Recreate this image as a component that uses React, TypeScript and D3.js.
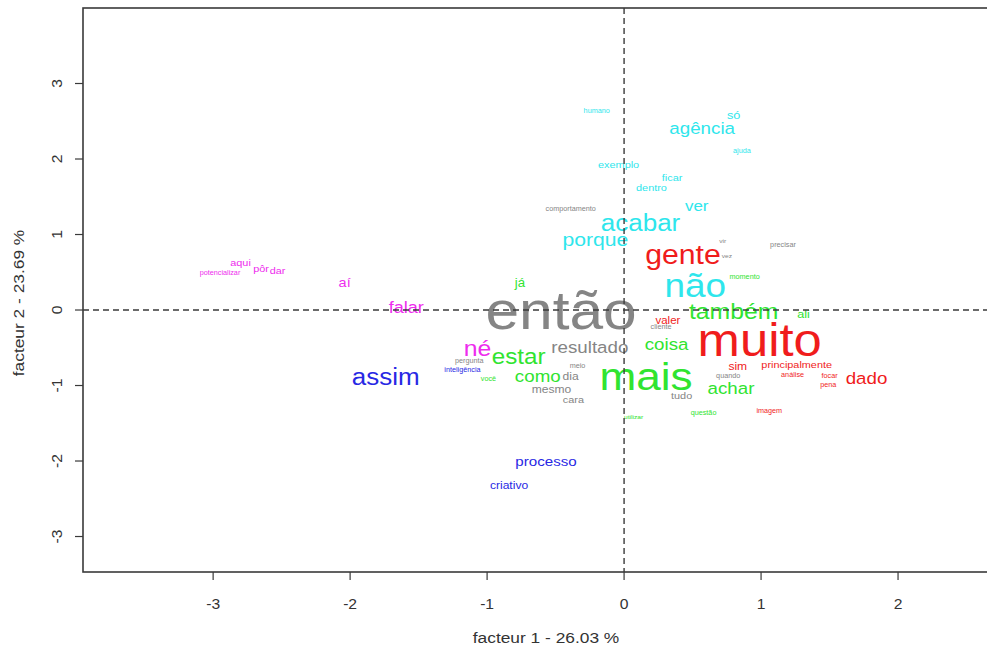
import React from "react";
import * as d3 from "d3";

// words of the correspondence analysis, one entry per word
const words = [
  "humano", "só", "agência", "ajuda", "exemplo", "ficar", "dentro", "ver", "acabar", "porque", "não",
  "gente", "muito", "valer", "sim", "principalmente", "análise", "focar", "pena", "dado", "imagem",
  "já", "também", "ali", "momento", "coisa", "mais", "achar", "estar", "como", "você", "utilizar", "questão",
  "comportamento", "vir", "vez", "precisar", "então", "cliente", "resultado", "pergunta", "meio", "dia", "mesmo", "cara", "tudo", "quando",
  "aqui", "potencializar", "pôr", "dar", "aí", "falar", "né",
  "assim", "inteligência", "processo", "criativo",
];

const factor1 = [
  -0.2, 0.8, 0.57, 0.86, -0.04, 0.35, 0.2, 0.53, 0.12, -0.21, 0.52,
  0.43, 0.99, 0.32, 0.83, 1.26, 1.23, 1.5, 1.49, 1.77, 1.06,
  -0.76, 0.8, 1.31, 0.88, 0.31, 0.16, 0.78, -0.77, -0.63, -0.99, 0.07, 0.58,
  -0.39, 0.72, 0.75, 1.16, -0.46, 0.27, -0.25, -1.13, -0.34, -0.39, -0.53, -0.37, 0.42, 0.76,
  -2.8, -2.95, -2.65, -2.53, -2.04, -1.59, -1.07,
  -1.74, -1.18, -0.57, -0.84,
];

const factor2 = [
  2.64, 2.58, 2.4, 2.11, 1.93, 1.75, 1.62, 1.38, 1.15, 0.93, 0.33,
  0.73, -0.4, -0.13, -0.74, -0.72, -0.85, -0.87, -0.99, -0.91, -1.33,
  0.35, -0.02, -0.05, 0.44, -0.46, -0.88, -1.04, -0.62, -0.88, -0.91, -1.41, -1.36,
  1.34, 0.92, 0.72, 0.87, 0.0, -0.22, -0.5, -0.67, -0.74, -0.88, -1.05, -1.19, -1.13, -0.87,
  0.62, 0.5, 0.55, 0.52, 0.36, 0.03, -0.51,
  -0.89, -0.79, -2.01, -2.32,
];

const freq = [
  12, 21, 31, 12, 18, 18, 18, 28, 43, 35, 61,
  50, 84, 19, 20, 18, 12, 12, 12, 31, 12,
  22, 41, 21, 12, 31, 73, 31, 40, 31, 12, 11, 12,
  12, 11, 11, 12, 100, 12, 31, 12, 12, 20, 20, 18, 18, 12,
  18, 12, 18, 18, 24, 30, 41,
  43, 12, 25, 20,
];

const cluster = [
  1, 1, 1, 1, 1, 1, 1, 1, 1, 1, 1,
  2, 2, 2, 2, 2, 2, 2, 2, 2, 2,
  3, 3, 3, 3, 3, 3, 3, 3, 3, 3, 3, 3,
  4, 4, 4, 4, 4, 4, 4, 4, 4, 4, 4, 4, 4, 4,
  5, 5, 5, 5, 5, 5, 5,
  6, 6, 6, 6,
];

const clusterColors = ["#2ee6ec", "#f01c1c", "#30e430", "#858585", "#ee2cee", "#2828e4"];

const xTicks = [-3, -2, -1, 0, 1, 2];
const yTicks = [-3, -2, -1, 0, 1, 2, 3];
const xTitle = "facteur  1  - 26.03 %";
const yTitle = "facteur  2  - 23.69 %";

const W = 987;
const H = 648;
const left = 83;
const top = 8;
const right = 1009; // the frame runs past the picture edge
const bottom = 572;
const font = "'Liberation Sans', Arial, sans-serif";
const stretch = 1.12;

const App = () => {
  const x = d3.scaleLinear().domain([-3.95, 2.81]).range([left, right]);
  const y = d3.scaleLinear().domain([-3.47, 4.0]).range([bottom, top]);
  const size = d3.scaleLinear().domain([0, 100]).range([0, 54]);
  const color = d3.scaleOrdinal<number, string>().domain([1, 2, 3, 4, 5, 6]).range(clusterColors);

  const labels = words.map((w, i) => ({ w, x: factor1[i], y: factor2[i], f: freq[i], c: cluster[i] }));
  const axisColor = "#3a3a3a";

  return (
    <div style={{ position: "absolute", left: 0, top: 0 }}>
      <svg width={W} height={H} style={{ display: "block", background: "#fff" }} fontFamily={font}>
        {labels.map((d) => (
          <text
            key={d.w}
            transform={`translate(${x(d.x)},${y(d.y)}) scale(${stretch},1)`}
            textAnchor="middle"
            dominantBaseline="central"
            fontSize={size(d.f)}
            fill={color(d.c)}
          >
            {d.w}
          </text>
        ))}

        <line x1={x(0)} x2={x(0)} y1={top} y2={bottom} stroke={axisColor} strokeWidth={1.4} strokeDasharray="6,4" />
        <line x1={left} x2={right} y1={y(0)} y2={y(0)} stroke={axisColor} strokeWidth={1.4} strokeDasharray="6,4" />

        <rect x={left} y={top} width={right - left} height={bottom - top} fill="none" stroke={axisColor} strokeWidth={1.6} />

        {xTicks.map((t) => (
          <g key={"x" + t}>
            <line x1={x(t)} x2={x(t)} y1={bottom} y2={bottom + 8} stroke={axisColor} strokeWidth={1.2} />
            <text
              transform={`translate(${x(t)},${604}) scale(${stretch},1)`}
              textAnchor="middle"
              dominantBaseline="central"
              fontSize={14}
              fill="#333"
            >
              {t}
            </text>
          </g>
        ))}

        {yTicks.map((t) => (
          <g key={"y" + t}>
            <line x1={left - 8} x2={left} y1={y(t)} y2={y(t)} stroke={axisColor} strokeWidth={1.2} />
            <text
              transform={`translate(${57},${y(t)}) rotate(-90) scale(${stretch},1)`}
              textAnchor="middle"
              dominantBaseline="central"
              fontSize={14}
              fill="#333"
            >
              {t}
            </text>
          </g>
        ))}

        <text
          transform={`translate(${(left + right) / 2},${637}) scale(${stretch},1)`}
          textAnchor="middle"
          dominantBaseline="central"
          fontSize={15.5}
          fill="#333"
        >
          {xTitle}
        </text>
        <text
          transform={`translate(${18},${303}) rotate(-90) scale(${stretch},1)`}
          textAnchor="middle"
          dominantBaseline="central"
          fontSize={15.5}
          fill="#333"
        >
          {yTitle}
        </text>
      </svg>
    </div>
  );
};

export default App;
